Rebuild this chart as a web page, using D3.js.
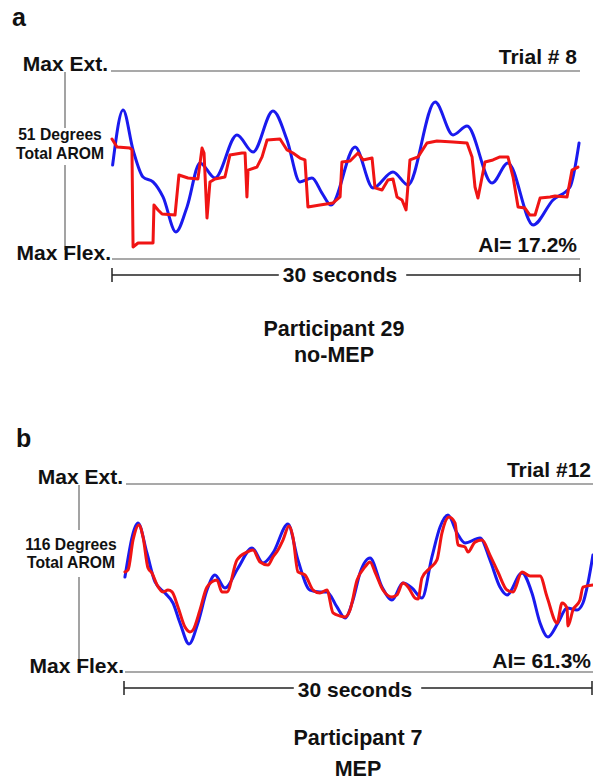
<!DOCTYPE html>
<html lang="en">
<head>
  <meta charset="UTF-8">
  <title>Tracking traces, Participants 29 and 7</title>
  <script src="https://d3js.org/d3.v7.min.js"></script>
  <style>
    body {
      margin: 0;
      background: #fff;
    }
    svg {
      display: block;
      font-family: "Liberation Sans", Arial, sans-serif;
      font-weight: bold;
      fill: #111;
    }
    .ref line {
      stroke: #8c8c8c;
      stroke-width: 1.6;
    }
    .trace {
      fill: none;
      stroke-width: 3;
      stroke-linejoin: round;
      stroke-linecap: round;
    }
  </style>
</head>
<body>
  <div id="chart"></div>
  <script>
    // text of the two panels
    const panelLetters = ["a", "b"];
    const trialLabels = ["Trial # 8", "Trial #12"];
    const aromLabels = [["51 Degrees", "Total AROM"], ["116 Degrees", "Total AROM"]];
    const aiLabels = ["AI= 17.2%", "AI= 61.3%"];
    const participantLabels = [["Participant 29", "no-MEP"], ["Participant 7", "MEP"]];
    const durationLabel = "30 seconds";
    const duration = 30;

    // [seconds, % of AROM] 0 = max flexion, 100 = max extension
    const targetA = [[0.04, 50.0], [0.71, 79.3], [1.35, 58.0], [1.99, 43.6], [2.63, 41.0], [3.27, 33.0],
      [4.10, 14.4], [4.81, 27.7], [5.64, 51.1], [6.60, 43.1], [8.01, 66.0], [9.04, 56.9], [10.32, 78.7],
      [11.22, 63.3], [12.05, 41.0], [12.82, 43.1], [13.46, 35.1], [14.04, 28.7], [15.58, 59.6],
      [16.73, 37.8], [18.01, 46.3], [18.97, 39.4], [20.71, 83.5], [21.86, 66.0], [22.76, 70.7],
      [24.36, 40.4], [25.38, 51.1], [26.99, 18.1], [28.27, 31.4], [29.36, 38.3], [29.94, 61.7]];

    const trackA = [[0, 63.8], [0.32, 59.6], [1.15, 59.0], [1.28, 58.0], [1.35, 6.4], [1.67, 8.5],
      [2.63, 8.5], [2.69, 28.7], [2.95, 26.1], [3.21, 23.9], [4.04, 23.4], [4.29, 44.7], [4.87, 43.1],
      [5.51, 42.6], [5.77, 59.0], [5.90, 56.4], [6.09, 21.8], [6.28, 41.0], [6.60, 42.6], [7.24, 43.6],
      [7.56, 55.3], [8.33, 56.4], [8.53, 56.4], [8.65, 33.0], [8.72, 47.3], [9.29, 48.9], [9.62, 54.3],
      [9.94, 63.3], [10.77, 63.8], [11.22, 58.0], [11.60, 56.4], [12.05, 53.7], [12.37, 52.7],
      [12.56, 27.7], [13.33, 28.7], [14.17, 29.8], [14.62, 33.0], [14.74, 51.6], [15.26, 52.1],
      [15.77, 56.4], [16.09, 52.7], [16.67, 53.7], [16.86, 37.8], [17.31, 36.7], [17.69, 42.0],
      [18.01, 42.6], [18.27, 33.0], [18.59, 31.4], [18.85, 26.1], [19.10, 52.7], [19.62, 54.3],
      [20.19, 61.7], [20.83, 62.8], [21.86, 62.2], [22.76, 61.7], [23.08, 54.3], [23.27, 38.3],
      [23.46, 32.4], [23.91, 51.6], [24.42, 52.7], [24.87, 54.3], [25.38, 54.3], [25.71, 43.6],
      [26.03, 27.7], [26.47, 27.1], [26.79, 23.4], [27.12, 23.4], [27.44, 32.4], [28.08, 33.0],
      [28.40, 33.5], [29.17, 33.0], [29.49, 47.3], [29.87, 48.9]];

    const targetB = [[0.06, 50.5], [0.90, 79.3], [1.47, 63.3], [1.99, 47.9], [2.63, 42.0], [3.14, 36.7],
      [3.59, 26.1], [4.17, 14.9], [4.74, 26.1], [5.32, 43.6], [5.83, 51.6], [6.47, 44.7], [7.31, 55.3],
      [8.21, 66.0], [8.91, 58.0], [9.55, 63.3], [10.51, 78.7], [11.15, 59.6], [11.92, 43.6],
      [12.56, 42.6], [13.01, 42.6], [13.65, 34.6], [14.17, 28.7], [14.68, 38.3], [15.13, 52.7],
      [15.77, 60.6], [16.54, 45.2], [17.18, 38.3], [17.88, 47.3], [18.46, 44.7], [19.10, 39.4],
      [19.74, 61.2], [20.26, 77.1], [20.77, 83.5], [21.35, 73.9], [21.86, 68.6], [22.82, 71.3],
      [23.46, 59.6], [24.10, 45.2], [24.55, 41.0], [25.51, 52.7], [26.15, 42.0], [26.67, 26.1],
      [27.18, 18.6], [27.82, 26.1], [28.40, 34.0], [29.04, 33.0], [29.42, 36.7], [29.74, 47.3],
      [30.06, 62.2]];

    const trackB = [[0.06, 53.2], [0.26, 54.3], [0.58, 70.2], [0.96, 78.2], [1.22, 71.8], [1.54, 55.3],
      [1.79, 52.7], [2.12, 46.3], [2.50, 42.6], [2.82, 43.6], [3.08, 42.6], [3.46, 34.6], [3.91, 23.9],
      [4.23, 21.3], [4.42, 22.3], [4.87, 33.0], [5.32, 45.2], [5.96, 48.9], [6.28, 42.6], [6.60, 42.6],
      [7.24, 59.6], [7.88, 63.8], [8.27, 64.9], [8.72, 58.5], [9.23, 56.9], [9.55, 61.2], [9.87, 64.9],
      [10.19, 70.2], [10.58, 77.7], [10.83, 71.8], [11.15, 53.2], [11.60, 51.6], [12.12, 43.6],
      [12.56, 42.0], [13.01, 43.6], [13.40, 31.4], [13.85, 29.8], [14.17, 29.3], [14.49, 33.0],
      [14.94, 48.9], [15.45, 55.9], [15.77, 58.5], [16.09, 53.2], [16.60, 43.6], [17.18, 39.9],
      [17.50, 41.0], [17.88, 47.3], [18.21, 45.2], [18.65, 39.4], [18.85, 38.8], [19.10, 50.0],
      [19.62, 55.3], [20.06, 59.6], [20.38, 73.9], [20.83, 82.4], [21.22, 79.3], [21.41, 67.6],
      [21.86, 66.5], [22.05, 63.8], [22.50, 69.1], [22.95, 70.2], [23.46, 62.2], [23.97, 53.2],
      [24.55, 43.6], [24.94, 42.6], [25.51, 53.2], [26.03, 51.1], [26.67, 51.1], [27.12, 39.9],
      [27.76, 26.1], [28.08, 36.7], [28.40, 34.0], [28.46, 24.5], [28.78, 33.0], [29.23, 38.3],
      [29.42, 45.2], [30.06, 46.3]];

    const W = 593, H = 783;

    // where each panel sits on the page
    const layout = [
      { letterX: 12, letterY: 26, x0: 112, x1: 580, lineEnd: 580, extY: 71, flexY: 259, extTextX: 108, flexTextX: 111,
        rightX: 577, trialY: 64, aiY: 252, axisX: 65, gap: [128, 165], aromX: 60, aromY: [140, 159],
        barY: 275, secX: 340, secY: 282, partX: 334, partY: [336, 362], trackCurve: d3.curveLinear },
      { letterX: 16, letterY: 447, x0: 124, x1: 592, lineEnd: 593, extY: 484, flexY: 672, extTextX: 123, flexTextX: 124,
        rightX: 591, trialY: 477, aiY: 668, axisX: 79, gap: [530, 577], aromX: 71, aromY: [550, 568],
        barY: 688, secX: 355, secY: 697, partX: 358, partY: [745, 776], trackCurve: d3.curveMonotoneX }
    ];
    const targets = [targetA, targetB];
    const tracks = [trackA, trackB];

    const svg = d3.select("#chart")
      .append("svg")
      .attr("width", W)
      .attr("height", H);

    layout.forEach((L, i) => {
      const g = svg.append("g");

      const x = d3.scaleLinear().domain([0, duration]).range([L.x0, L.x1]);
      const y = d3.scaleLinear().domain([0, 100]).range([L.flexY, L.extY]);

      // panel letter
      g.append("text")
        .attr("x", L.letterX)
        .attr("y", L.letterY)
        .style("font-size", "25px")
        .text(panelLetters[i]);

      // max extension / max flexion reference lines
      const ref = g.append("g").attr("class", "ref");
      ref.append("line")
        .attr("x1", L.extTextX + 3).attr("x2", L.lineEnd)
        .attr("y1", y(100)).attr("y2", y(100));
      ref.append("line")
        .attr("x1", L.flexTextX + 1).attr("x2", L.lineEnd)
        .attr("y1", y(0)).attr("y2", y(0));
      ref.append("line")
        .attr("x1", L.axisX).attr("x2", L.axisX)
        .attr("y1", y(100) + 1).attr("y2", L.gap[0]);
      ref.append("line")
        .attr("x1", L.axisX).attr("x2", L.axisX)
        .attr("y1", L.gap[1]).attr("y2", y(0) - 9);

      g.append("text")
        .attr("x", L.extTextX).attr("y", y(100))
        .attr("text-anchor", "end")
        .style("font-size", "21px")
        .text("Max Ext.");
      g.append("text")
        .attr("x", L.flexTextX).attr("y", y(0) + 1)
        .attr("text-anchor", "end")
        .style("font-size", "21px")
        .text("Max Flex.");

      g.selectAll(".arom")
        .data(aromLabels[i])
        .join("text")
        .attr("class", "arom")
        .attr("x", L.aromX)
        .attr("y", (d, k) => L.aromY[k])
        .attr("text-anchor", "middle")
        .style("font-size", "15.7px")
        .text(d => d);

      g.append("text")
        .attr("x", L.rightX).attr("y", L.trialY)
        .attr("text-anchor", "end")
        .style("font-size", "21px")
        .text(trialLabels[i]);
      g.append("text")
        .attr("x", L.rightX).attr("y", L.aiY)
        .attr("text-anchor", "end")
        .style("font-size", "21px")
        .text(aiLabels[i]);

      // traces: blue = target, red = participant
      const line = d3.line()
        .x(d => x(d[0]))
        .y(d => y(d[1]));

      g.append("path")
        .attr("class", "trace")
        .attr("stroke", "#1a1aee")
        .attr("d", line.curve(d3.curveMonotoneX)(targets[i]));
      g.append("path")
        .attr("class", "trace")
        .attr("stroke", "#f01414")
        .attr("d", line.curve(L.trackCurve)(tracks[i]));

      // 30 second scale bar
      const sec = g.append("text")
        .attr("x", L.secX).attr("y", L.secY)
        .attr("text-anchor", "middle")
        .style("font-size", "21px")
        .text(durationLabel);
      const half = sec.node().getComputedTextLength() / 2;
      const bar = g.append("g")
        .attr("stroke", "#222")
        .attr("stroke-width", 1.5);
      bar.append("line")
        .attr("x1", x(0)).attr("x2", L.secX - half - 4)
        .attr("y1", L.barY).attr("y2", L.barY);
      bar.append("line")
        .attr("x1", L.secX + half + 9).attr("x2", x(duration))
        .attr("y1", L.barY).attr("y2", L.barY);
      [0, duration].forEach(t => {
        bar.append("line")
          .attr("x1", x(t)).attr("x2", x(t))
          .attr("y1", L.barY - 7).attr("y2", L.barY + 7);
      });

      g.selectAll(".part")
        .data(participantLabels[i])
        .join("text")
        .attr("class", "part")
        .attr("x", L.partX)
        .attr("y", (d, k) => L.partY[k])
        .attr("text-anchor", "middle")
        .style("font-size", "21.5px")
        .text(d => d);
    });
  </script>
</body>
</html>
